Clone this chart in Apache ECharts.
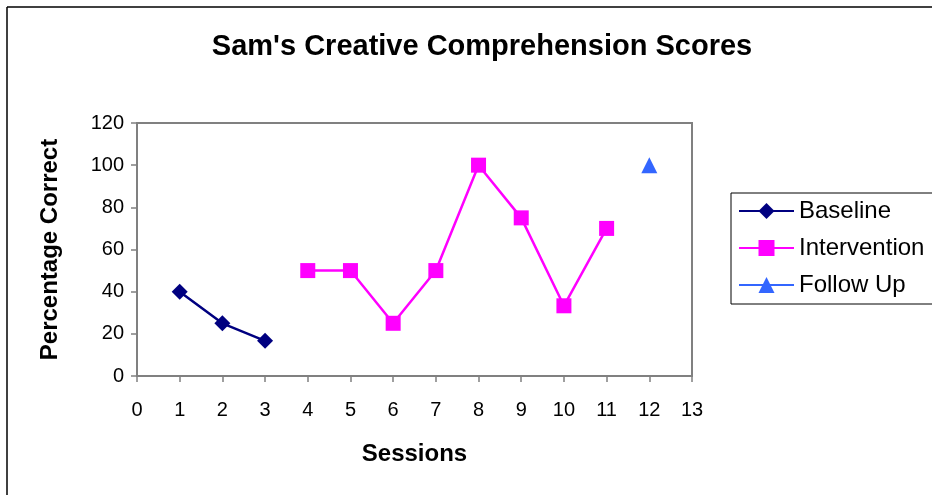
<!DOCTYPE html>
<html lang="en">
<head>
  <meta charset="UTF-8">
  <title>Sam's Creative Comprehension Scores</title>
  <script src="https://cdn.jsdelivr.net/npm/echarts@6/dist/echarts.min.js"></script>
  <style>
    * {
      margin: 0;
      padding: 0
    }

    html, body {
      width: 100%;
      height: 100%;
      background: #fff;
    }

    #main {
      width: 932px;
      height: 495px;
    }
  </style>
</head>
<body>
  <div id="main"></div>
</body>
<script type="text/javascript">
  // sessions / scores
  var baselineX = [1, 2, 3];
  var baselineY = [40, 25, 16.7];
  var interventionX = [4, 5, 6, 7, 8, 9, 10, 11];
  var interventionY = [50, 50, 25, 50, 100, 75, 33.3, 70];
  var followUpX = [12];
  var followUpY = [100];

  function pairs(xs, ys) {
    var out = [];
    for (var i = 0; i < xs.length; i++) {
      out.push([xs[i], ys[i]]);
    }
    return out;
  }

  var font = 'Liberation Sans, Arial, sans-serif';
  var chart = echarts.init(document.getElementById('main'));
  chart.setOption({
    animation: false,
    backgroundColor: '#fff',
    textStyle: {fontFamily: font},
    title: {
      text: "Sam's Creative Comprehension Scores",
      left: 477,
      top: 27,
      textAlign: 'center',
      textStyle: {fontSize: 29, fontWeight: 'bold', color: '#000', fontFamily: font}
    },
    graphic: [
      {type: 'line', shape: {x1: 7, y1: 7, x2: 932, y2: 7}, style: {stroke: '#000', lineWidth: 1.5}},
      {type: 'line', shape: {x1: 7, y1: 7, x2: 7, y2: 495}, style: {stroke: '#000', lineWidth: 1.5}}
    ],
    legend: {
      orient: 'vertical',
      left: 731,
      top: 193,
      padding: [6, 16, 7, 7],
      itemWidth: 55,
      itemHeight: 20,
      itemGap: 13,
      borderColor: '#000',
      borderWidth: 1,
      textStyle: {fontSize: 24, color: '#000', fontFamily: font},
      data: ['Baseline', 'Intervention', 'Follow Up']
    },
    grid: {
      left: 137,
      right: 240,
      top: 123,
      bottom: 119,
      show: true,
      borderColor: '#808080',
      borderWidth: 2,
      backgroundColor: '#fff'
    },
    xAxis: {
      type: 'value',
      min: 0,
      max: 13,
      interval: 1,
      name: 'Sessions',
      nameLocation: 'middle',
      nameGap: 66,
      nameTextStyle: {fontSize: 24, fontWeight: 'bold', color: '#000', fontFamily: font},
      axisLine: {lineStyle: {color: '#808080', width: 2}},
      axisTick: {show: true, length: 6, lineStyle: {color: '#808080', width: 1.5}},
      axisLabel: {fontSize: 20, color: '#000', margin: 24, fontFamily: font},
      splitLine: {show: false}
    },
    yAxis: {
      type: 'value',
      min: 0,
      max: 120,
      interval: 20,
      name: 'Percentage Correct',
      nameLocation: 'middle',
      nameGap: 75,
      nameTextStyle: {fontSize: 24, fontWeight: 'bold', color: '#000', fontFamily: font},
      axisLine: {show: true, lineStyle: {color: '#808080', width: 2}},
      axisTick: {show: true, length: 6, lineStyle: {color: '#808080', width: 1.5}},
      axisLabel: {fontSize: 20, color: '#000', margin: 13, fontFamily: font},
      splitLine: {show: false}
    },
    series: [
      {
        name: 'Baseline',
        type: 'line',
        data: pairs(baselineX, baselineY),
        symbol: 'diamond',
        symbolSize: 16,
        itemStyle: {color: '#000080'},
        lineStyle: {color: '#000080', width: 2.5}
      },
      {
        name: 'Intervention',
        type: 'line',
        data: pairs(interventionX, interventionY),
        symbol: 'rect',
        symbolSize: 15,
        itemStyle: {color: '#ff00ff'},
        lineStyle: {color: '#ff00ff', width: 2.5}
      },
      {
        name: 'Follow Up',
        type: 'line',
        data: pairs(followUpX, followUpY),
        symbol: 'triangle',
        symbolSize: 16,
        itemStyle: {color: '#3366ff'},
        lineStyle: {color: '#3366ff', width: 2.5}
      }
    ]
  });
</script>
</html>
